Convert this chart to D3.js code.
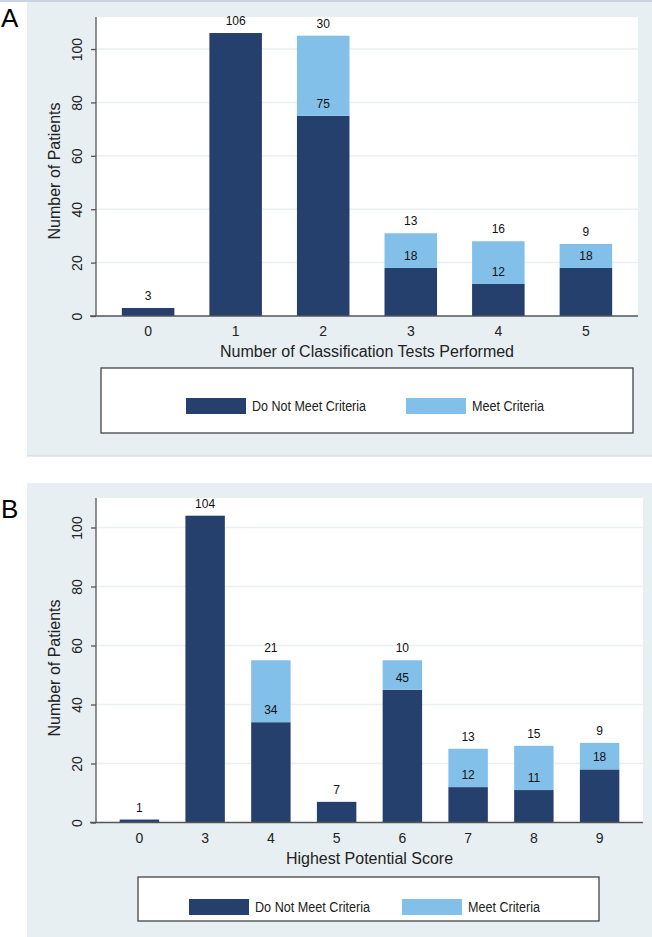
<!DOCTYPE html>
<html>
<head>
<meta charset="utf-8">
<script src="https://cdn.jsdelivr.net/npm/d3@7"></script>
<style>
  body { margin: 0; background: #ffffff; }
  text { font-family: "Liberation Sans", Arial, sans-serif; }
</style>
</head>
<body>
<script>
// ---------------- DATA ----------------
const seriesNames = ["Do Not Meet Criteria", "Meet Criteria"];
const yTickValues = [0, 20, 40, 60, 80, 100];

const categoriesA = ["0", "1", "2", "3", "4", "5"];
const notMeetA = [3, 106, 75, 18, 12, 18];
const meetA = [0, 0, 30, 13, 16, 9];
const xTitleA = "Number of Classification Tests Performed";

const categoriesB = ["0", "3", "4", "5", "6", "7", "8", "9"];
const notMeetB = [1, 104, 34, 7, 45, 12, 11, 18];
const meetB = [0, 0, 21, 0, 10, 13, 15, 9];
const xTitleB = "Highest Potential Score";

const yTitle = "Number of Patients";
const panelLetters = ["A", "B"];

// ---------------- STYLE ----------------
const colDark = "#26406e";
const colLight = "#82c0ea";
const bgCol = "#e8eff2";

const svg = d3.select("body").append("svg")
  .attr("width", 652).attr("height", 937);

function drawPanel(opt) {
  const g = svg.append("g");
  // panel background
  g.append("rect").attr("x", 27).attr("y", opt.bgTop).attr("width", 625)
    .attr("height", opt.bgH).attr("fill", bgCol);
  // plot region
  g.append("rect").attr("x", opt.left).attr("y", opt.top)
    .attr("width", opt.right - opt.left).attr("height", opt.bottom - opt.top)
    .attr("fill", "#ffffff");

  const x = d3.scaleBand().domain(opt.cats).range([opt.left, opt.right])
    .paddingInner(0.4).paddingOuter(opt.po);
  const y = d3.scaleLinear().domain([0, opt.ymax]).range([opt.bottom, opt.top]);

  // gridlines
  g.selectAll("line.grid").data(yTickValues.filter(d => d > 0)).join("line")
    .attr("x1", opt.left).attr("x2", opt.right)
    .attr("y1", d => y(d)).attr("y2", d => y(d))
    .attr("stroke", "#eaeff2").attr("stroke-width", 1.5);

  const rows = opt.cats.map((c, i) => ({cat: c, a: opt.s1[i], b: opt.s2[i]}));
  const stack = d3.stack().keys(["a", "b"])(rows);
  const cols = [colDark, colLight];

  stack.forEach((layer, li) => {
    g.selectAll(null).data(layer.filter(d => d[1] - d[0] > 0)).join("rect")
      .attr("x", d => x(d.data.cat)).attr("width", x.bandwidth())
      .attr("y", d => y(d[1])).attr("height", d => y(d[0]) - y(d[1]))
      .attr("fill", cols[li]);
  });
  stack.forEach((layer) => {
    g.selectAll(null).data(layer.filter(d => d[1] - d[0] > 0)).join("text")
      .attr("x", d => x(d.data.cat) + x.bandwidth() / 2)
      .attr("y", d => y(d[1]) - 8)
      .attr("text-anchor", "middle").attr("font-size", 12).attr("fill", "#111")
      .text(d => d[1] - d[0]);
  });

  // y axis
  const yAxis = d3.axisLeft(y).tickValues(yTickValues).tickSize(5).tickFormat(d3.format("d"));
  const ya = g.append("g").attr("transform", `translate(${opt.left},0)`).call(yAxis);
  ya.select(".domain").attr("stroke", "#555").attr("stroke-width", 1.3)
    .attr("d", `M0,${opt.top}V${opt.bottom}`);
  ya.selectAll(".tick line").attr("stroke", "#555").attr("stroke-width", 1.3);
  ya.selectAll(".tick text")
    .attr("x", null).attr("dy", null).attr("y", null)
    .attr("transform", "translate(-14,0) rotate(-90)")
    .attr("text-anchor", "middle")
    .attr("font-size", 14).attr("fill", "#222")
    .attr("font-family", "Liberation Sans, Arial, sans-serif");

  // x axis
  const xAxis = d3.axisBottom(x).tickSize(0).tickPadding(0);
  const xa = g.append("g").attr("transform", `translate(0,${opt.bottom})`).call(xAxis);
  xa.select(".domain").attr("stroke", "#555").attr("stroke-width", 1.5)
    .attr("d", `M${opt.left - 6},0H${opt.right}`);
  xa.selectAll(".tick text").attr("y", 20).attr("dy", null)
    .attr("font-size", 14).attr("fill", "#222")
    .attr("font-family", "Liberation Sans, Arial, sans-serif");

  // axis titles
  g.append("text").attr("x", (opt.left + opt.right) / 2).attr("y", opt.bottom + 41)
    .attr("text-anchor", "middle").attr("font-size", 16).attr("fill", "#222")
    .text(opt.xTitle);
  g.append("text")
    .attr("transform", `translate(60,${opt.yTitleC}) rotate(-90)`)
    .attr("text-anchor", "middle").attr("font-size", 16).attr("fill", "#222")
    .text(yTitle);

  // legend
  const L = opt.legend;
  g.append("rect").attr("x", L.x).attr("y", L.y).attr("width", L.w).attr("height", L.h)
    .attr("fill", "#fff").attr("stroke", "#444").attr("stroke-width", 1.3);
  seriesNames.forEach((name, i) => {
    g.append("rect").attr("x", L.sx[i]).attr("y", L.sy).attr("width", 60).attr("height", 16)
      .attr("fill", cols[i]);
    g.append("text").attr("x", L.sx[i] + 66).attr("y", L.sy + 13)
      .attr("font-size", 14).attr("fill", "#222")
      .attr("textLength", L.tl[i]).attr("lengthAdjust", "spacingAndGlyphs")
      .text(name);
  });

  // panel letter
  svg.append("text").attr("x", 1).attr("y", opt.letterY)
    .attr("font-size", 26).attr("fill", "#000").text(opt.letter);
}

// top strip
svg.append("rect").attr("x", 0).attr("y", 0).attr("width", 652).attr("height", 2)
  .attr("fill", "#c9d5e4");

drawPanel({
  bgTop: 2, bgH: 454, left: 96, right: 638, top: 17, bottom: 316, ymax: 112, po: 0.295,
  cats: categoriesA, s1: notMeetA, s2: meetA, xTitle: xTitleA, yTitleC: 171,
  legend: {x: 101, y: 368, w: 532, h: 65, sx: [186, 406], sy: 398, tl: [114, 72]},
  letter: panelLetters[0], letterY: 27
});
svg.append("line").attr("x1", 27).attr("x2", 652).attr("y1", 456).attr("y2", 456)
  .attr("stroke", "#cdd6dc").attr("stroke-width", 1);

drawPanel({
  bgTop: 483, bgH: 454, left: 96, right: 643, top: 498, bottom: 822.5, ymax: 110, po: 0.36,
  cats: categoriesB, s1: notMeetB, s2: meetB, xTitle: xTitleB, yTitleC: 668,
  legend: {x: 138, y: 877, w: 461, h: 44, sx: [189, 402], sy: 899, tl: [115, 72]},
  letter: panelLetters[1], letterY: 518
});
</script>
</body>
</html>
